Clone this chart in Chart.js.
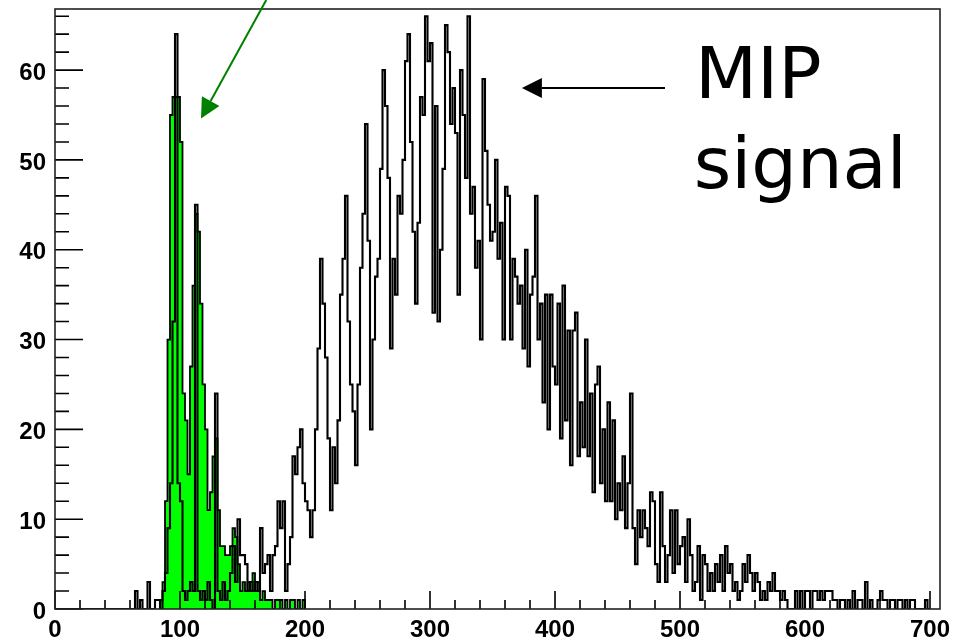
<!DOCTYPE html>
<html>
<head>
<meta charset="utf-8">
<title>MIP signal</title>
<script src="https://cdn.jsdelivr.net/npm/chart.js@4.4.1/dist/chart.umd.min.js"></script>
<style>
  html, body { margin: 0; padding: 0; background: #fff; }
  #wrap { width: 976px; height: 642px; }
</style>
</head>
<body>
<div id="wrap"><canvas id="mipChart" width="976" height="642"></canvas></div>
<script>
// ADC spectrum — signal run (black outline) over the pedestal run (green fill), 2-count bins.
const BIN_W = 2;
const X_MAX = 708;
const Y_MAX = 66.8;

const xTicks = [0, 100, 200, 300, 400, 500, 600, 700];
const yTicks = [0, 10, 20, 30, 40, 50, 60];
const X_MINOR = 20;
const Y_MINOR = 2;

// signal: bins from 0, one row = 20 counts of x
const signalStart = 0;
const signalCounts = [
  0, 0, 0, 0, 0, 0, 0, 0, 0, 0,
  0, 0, 0, 0, 0, 0, 0, 0, 0, 0,
  0, 0, 0, 0, 0, 0, 0, 0, 0, 0,
  0, 0, 2, 0, 1, 0, 0, 3, 0, 0,
  1, 1, 0, 2, 4, 9, 14, 32, 64, 14,
  12, 2, 1, 2, 3, 2, 45, 2, 1, 2,
  1, 3, 1, 0, 24, 2, 1, 3, 1, 2,
  4, 7, 3, 10, 6, 6, 5, 2, 3, 2,
  3, 2, 9, 4, 5, 6, 2, 6, 7, 12,
  9, 12, 2, 5, 8, 17, 15, 18, 20, 14,
  12, 11, 8, 11, 20, 29, 39, 34, 28, 19,
  11, 18, 14, 21, 35, 39, 46, 32, 25, 22,
  16, 25, 38, 44, 54, 41, 20, 30, 37, 39,
  49, 60, 56, 48, 29, 39, 35, 46, 44, 50,
  61, 64, 52, 42, 34, 43, 57, 55, 66, 61,
  63, 33, 56, 32, 40, 49, 65, 62, 54, 58,
  53, 35, 60, 55, 48, 66, 44, 47, 38, 41,
  30, 59, 51, 45, 41, 42, 50, 39, 43, 30,
  47, 46, 30, 39, 37, 34, 36, 29, 40, 27,
  35, 37, 46, 30, 34, 23, 35, 20, 35, 27,
  25, 34, 19, 36, 21, 31, 16, 31, 33, 17,
  23, 18, 30, 17, 24, 13, 25, 27, 14, 20,
  12, 23, 12, 21, 10, 14, 11, 17, 9, 14,
  24, 9, 5, 11, 8, 11, 9, 7, 13, 12,
  5, 3, 13, 7, 3, 6, 11, 4, 11, 5,
  7, 8, 3, 10, 6, 2, 3, 7, 1, 6,
  5, 2, 4, 2, 5, 3, 6, 2, 7, 4,
  5, 2, 3, 1, 2, 5, 3, 6, 4, 2,
  4, 3, 1, 2, 1, 3, 2, 4, 2, 2,
  1, 2, 1, 0, 0, 0, 2, 0, 2, 0,
  2, 2, 0, 2, 2, 1, 2, 1, 2, 2,
  2, 1, 1, 0, 1, 1, 0, 1, 0, 2,
  0, 1, 1, 0, 3, 0, 1, 0, 0, 1,
  2, 1, 1, 0, 1, 1, 0, 1, 1, 0,
  1, 0, 1, 1, 0, 0, 0, 0, 1, 0
];

// pedestal: bins from 84
const pedestalStart = 84;
const pedestalCounts = [
  1, 3, 12, 30, 55, 57, 57, 57, 52, 24,
  21, 15, 27, 36, 44, 42, 34, 25, 20, 11,
  13, 17, 19, 11, 7, 7, 6, 6, 7, 9,
  8, 5, 2, 3, 2, 3, 2, 4, 2, 3,
  1, 2, 1, 1, 1, 0, 1, 1, 1, 0,
  1, 0, 1, 1, 0, 1, 0, 1
];

// annotations, in axis units
const mipLabel = ["MIP", "signal"];
const mipLabelAt = [[512, 56.9], [511, 46.9]];
const mipArrow = [[488, 58], [373.5, 58]];
const pedArrow = [[169, 67.8], [116.8, 54.6]];

function toSteps(start, counts) {
  const pts = [{ x: start, y: 0 }];
  counts.forEach((c, i) => pts.push({ x: start + i * BIN_W, y: c }));
  pts.push({ x: start + counts.length * BIN_W, y: 0 });
  return pts;
}

// ROOT-like frame: inward ticks + box
const rootFrame = {
  id: "rootFrame",
  afterDatasetsDraw(chart) {
    const { ctx, chartArea: a, scales } = chart;
    const x = scales.x, y = scales.y;
    ctx.save();
    ctx.strokeStyle = "#000";
    ctx.lineWidth = 1.6;
    ctx.beginPath();
    for (let v = 0; v <= X_MAX; v += X_MINOR) {
      const px = x.getPixelForValue(v);
      const len = v % 100 === 0 ? 18 : 9;
      ctx.moveTo(px, a.bottom);
      ctx.lineTo(px, a.bottom - len);
    }
    for (let v = 0; v <= Y_MAX; v += Y_MINOR) {
      const py = y.getPixelForValue(v);
      const len = v % 10 === 0 ? 28 : 14;
      ctx.moveTo(a.left, py);
      ctx.lineTo(a.left + len, py);
    }
    ctx.stroke();
    ctx.strokeStyle = "#222";
    ctx.strokeRect(a.left, a.top, a.right - a.left, a.bottom - a.top);
    ctx.restore();
  },
};

function arrow(ctx, x0, y0, x1, y1, color) {
  const ang = Math.atan2(y1 - y0, x1 - x0);
  const hl = 20, hw = 10;
  const bx = x1 - hl * Math.cos(ang), by = y1 - hl * Math.sin(ang);
  ctx.strokeStyle = color;
  ctx.fillStyle = color;
  ctx.lineWidth = 2;
  ctx.beginPath();
  ctx.moveTo(x0, y0);
  ctx.lineTo(bx, by);
  ctx.stroke();
  ctx.beginPath();
  ctx.moveTo(x1, y1);
  ctx.lineTo(bx + hw * Math.sin(ang), by - hw * Math.cos(ang));
  ctx.lineTo(bx - hw * Math.sin(ang), by + hw * Math.cos(ang));
  ctx.closePath();
  ctx.fill();
}

const notes = {
  id: "notes",
  afterDraw(chart) {
    const { ctx, scales } = chart;
    const px = (p) => [scales.x.getPixelForValue(p[0]), scales.y.getPixelForValue(p[1])];
    ctx.save();
    const m0 = px(mipArrow[0]), m1 = px(mipArrow[1]);
    arrow(ctx, m0[0], m0[1], m1[0], m1[1], "#000");
    const g0 = px(pedArrow[0]), g1 = px(pedArrow[1]);
    arrow(ctx, g0[0], g0[1], g1[0], g1[1], "#008000");
    ctx.fillStyle = "#000";
    ctx.font = '72px "DejaVu Sans"';
    ctx.textAlign = "left";
    ctx.textBaseline = "alphabetic";
    mipLabel.forEach((t, i) => {
      const p = px(mipLabelAt[i]);
      ctx.fillText(t, p[0], p[1]);
    });
    ctx.restore();
  },
};

const tickFont = { family: "'Liberation Sans', Arial, sans-serif", size: 24, weight: "bold" };

new Chart(document.getElementById("mipChart"), {
  type: "line",
  data: {
    datasets: [
      {
        label: "signal",
        data: toSteps(signalStart, signalCounts),
        borderColor: "#000",
        borderWidth: 2.1,
        stepped: true,
        fill: false,
        pointRadius: 0,
      },
      {
        label: "pedestal",
        data: toSteps(pedestalStart, pedestalCounts),
        borderColor: "#000",
        borderWidth: 1.8,
        backgroundColor: "#00ff00",
        stepped: true,
        fill: "origin",
        pointRadius: 0,
      },
    ],
  },
  options: {
    responsive: false,
    animation: false,
    events: [],
    layout: { padding: { top: 9, right: 36, left: 0, bottom: 0 } },
    plugins: { legend: { display: false }, tooltip: { enabled: false } },
    scales: {
      x: {
        type: "linear",
        min: 0,
        max: X_MAX,
        grid: { display: false, drawTicks: false },
        border: { display: false },
        afterBuildTicks: (s) => { s.ticks = xTicks.map((v) => ({ value: v })); },
        afterFit: (s) => { s.height = 33; s.paddingLeft = 0; s.paddingRight = 0; },
        ticks: { font: tickFont, color: "#000", padding: 7, maxRotation: 0, autoSkip: false },
      },
      y: {
        min: 0,
        max: Y_MAX,
        grid: { display: false, drawTicks: false },
        border: { display: false },
        afterBuildTicks: (s) => { s.ticks = yTicks.map((v) => ({ value: v })); },
        afterFit: (s) => { s.width = 55; s.paddingTop = 0; s.paddingBottom = 0; },
        ticks: { font: tickFont, color: "#000", padding: 9, labelOffset: 3 },
      },
    },
  },
  plugins: [rootFrame, notes],
});
</script>
</body>
</html>
